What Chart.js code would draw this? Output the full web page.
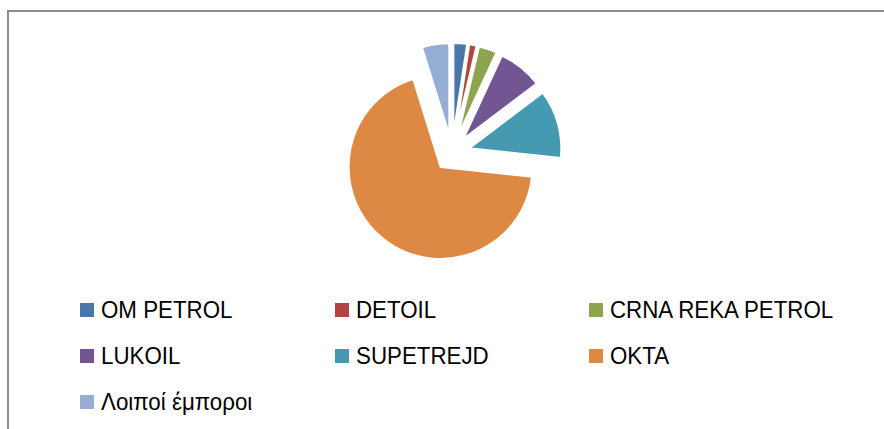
<!DOCTYPE html>
<html>
<head>
<meta charset="utf-8">
<script src="https://cdn.jsdelivr.net/npm/chart.js@4"></script>
<style>
  html, body { margin: 0; padding: 0; background: #fff; }
  #wrap { position: relative; width: 884px; height: 429px; overflow: hidden; }
  #frame { position: absolute; left: 7px; top: 10px; width: 900px; height: 440px;
           border-top: 2px solid #8c8c8c; border-left: 2px solid #8c8c8c; }
  #pie { position: absolute; left: 0; top: 0; }
  .item { position: absolute; height: 30px; display: flex; align-items: center;
          font-family: "Liberation Sans", Arial, sans-serif;
          font-size: 24px; color: #000; white-space: nowrap; }
  .box { width: 14px; height: 14px; margin-right: 7px; flex: none; }
  .txt { display: inline-block; transform: scaleX(0.93); transform-origin: left center; }
</style>
</head>
<body>
<div id="wrap">
  <div id="frame"></div>
  <canvas id="pie" width="884" height="290"></canvas>
  <div id="legend"></div>
</div>
<script>
// εταιρείες και μερίδια (%)
const labels = ['OM PETROL', 'DETOIL', 'CRNA REKA PETROL', 'LUKOIL', 'SUPETREJD', 'OKTA', 'Λοιποί έμποροι'];
const shares = [2.4, 1.3, 3.2, 7.8, 12.0, 68.5, 4.8];
const colors = ['#4a76a8', '#b0463f', '#8da54f', '#725693', '#4599b0', '#dd8843', '#96aed3'];

// θέσεις του υπομνήματος (3 στήλες)
const colX = [80, 335, 589];
const rowY = [295, 341, 387];

const legend = document.getElementById('legend');
labels.forEach(function (name, i) {
    const el = document.createElement('div');
    el.className = 'item';
    el.style.left = colX[i % 3] + 'px';
    el.style.top = rowY[Math.floor(i / 3)] + 'px';
    el.innerHTML = '<span class="box" style="background:' + colors[i] + '"></span>' +
                   '<span class="txt">' + name + '</span>';
    legend.appendChild(el);
});

// κάθε κομμάτι μετακινείται προς τα έξω (χωρίς το κόψιμο του offset)
const shift = 18;
const explode = {
    id: 'explode',
    beforeDatasetDraw(chart, args) {
        const c = chart.ctx;
        args.meta.data.forEach(function (arc) {
            const mid = (arc.startAngle + arc.endAngle) / 2;
            c.save();
            c.translate(Math.cos(mid) * shift, Math.sin(mid) * shift);
            arc.draw(c);
            c.restore();
        });
        return false;
    },
};

const ctx = document.getElementById('pie').getContext('2d');
new Chart(ctx, {
    type: 'pie',
    data: {
        labels: labels,
        datasets: [{
            data: shares,
            backgroundColor: colors,
            borderColor: '#ffffff',
            borderWidth: 2,
            hoverOffset: 0,
        }],
    },
    options: {
        responsive: false,
        animation: false,
        radius: 92,
        layout: { padding: { left: 20, right: 0, top: 16, bottom: 0 } },
        plugins: {
            legend: { display: false },
            tooltip: { enabled: false },
        },
    },
    plugins: [explode],
});
</script>
</body>
</html>
